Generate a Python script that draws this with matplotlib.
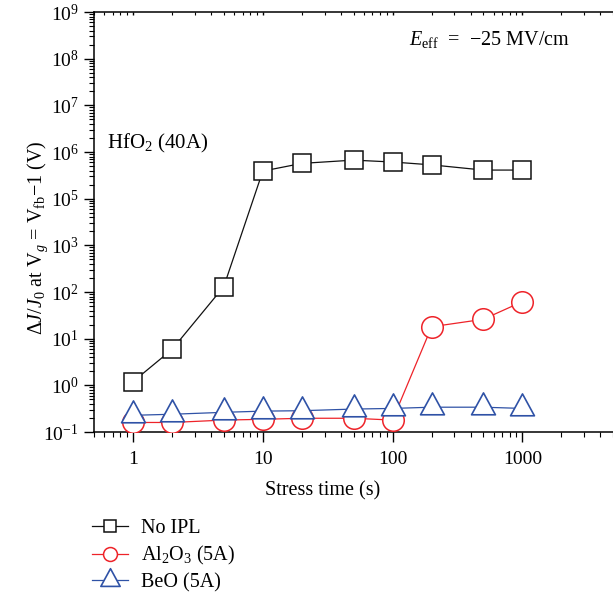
import numpy as np
import matplotlib
matplotlib.use('Agg')
import matplotlib.pyplot as plt
from matplotlib.lines import Line2D
from matplotlib.path import Path
from matplotlib.ticker import FixedLocator, LogLocator, NullFormatter

plt.rcParams['font.family'] = 'serif'
plt.rcParams['font.serif'] = ['Liberation Serif', 'DejaVu Serif']
plt.rcParams['mathtext.fontset'] = 'custom'
plt.rcParams['mathtext.rm'] = 'Liberation Serif'
plt.rcParams['mathtext.it'] = 'Liberation Serif:italic'
plt.rcParams['mathtext.bf'] = 'Liberation Serif:bold'

# stress times (s)
stress_time = [1, 2, 5, 10, 20, 50, 100, 200, 500, 1000]

# dJ/J0 as read against the axis labels
no_ipl = [1.2, 5.9, 130, 3.9e5, 5.7e5, 6.7e5, 6.1e5, 5.3e5, 4.1e5, 4.1e5]
al2o3 = [0.16, 0.16, 0.18, 0.187, 0.197, 0.197, 0.18, 18, 26, 62]
beo = [0.228, 0.24, 0.264, 0.28, 0.286, 0.31, 0.32, 0.34, 0.34, 0.32]

series_labels = ['No IPL', r'Al$_2$O$_3$ (5A)', 'BeO (5A)']

# the y axis jumps straight from 10^3 to 10^5
ytick_exp = [-1, 0, 1, 2, 3, 5, 6, 7, 8, 9]


def to_axis(vals):
    # values past the missing 10^4 decade sit one decade lower on the axis
    return [v if v < 1e4 else v / 10.0 for v in vals]


# triangle centred on its centroid
tri_w, tri_h = 24.0, 22.0
tri = Path([(0, 2 * tri_h / 3), (-tri_w / 2, -tri_h / 3), (tri_w / 2, -tri_h / 3), (0, 2 * tri_h / 3)],
           [Path.MOVETO, Path.LINETO, Path.LINETO, Path.CLOSEPOLY])

black = '#111111'
red = '#ee2329'
blue = '#2f52a6'

W, H = 613, 594
fig = plt.figure(figsize=(W / 100, H / 100), dpi=100)
ax = fig.add_axes([94 / W, 1 - 432 / H, 519 / W, 420 / H])

ax.plot(stress_time, to_axis(no_ipl), color=black, lw=0.9, marker='s', ms=13.5,
        mfc='white', mec=black, mew=1.1, zorder=3)
ax.plot(stress_time, to_axis(al2o3), color=red, lw=0.9, marker='o', ms=15.5,
        mfc='white', mec=red, mew=1.1, zorder=4)
ax.plot(stress_time, to_axis(beo), color=blue, lw=0.9, marker=tri, ms=21,
        mfc='white', mec=blue, mew=1.2, zorder=5)

ax.set_xscale('log')
ax.set_yscale('log')
ax.set_xlim(0.5, 5000)
ax.set_ylim(1e-1, 1e8)

ax.set_xticks([1, 10, 100, 1000])
ax.set_xticklabels(['1', '10', '100', '1000'])
ax.xaxis.set_minor_locator(LogLocator(base=10, subs=np.arange(2, 10)))
ax.xaxis.set_minor_formatter(NullFormatter())

ypos = 10.0 ** np.arange(-1, 9)
ax.yaxis.set_major_locator(FixedLocator(ypos))
ax.set_yticklabels([r'$10^{%d}$' % e for e in ytick_exp])
ax.yaxis.set_minor_locator(LogLocator(base=10, subs=np.arange(2, 10)))
ax.yaxis.set_minor_formatter(NullFormatter())

ax.tick_params(axis='both', which='major', direction='out', length=7, width=1.0,
               labelsize=14, colors='black', pad=4)
ax.tick_params(axis='x', which='major', pad=7)
ax.tick_params(axis='both', which='minor', direction='out', length=3.5, width=0.8)
# only tiny inward marks along the top edge
ax.tick_params(axis='x', which='both', top=True, labeltop=False)
for t in ax.xaxis.get_major_ticks() + ax.xaxis.get_minor_ticks():
    t.tick2line.set_markersize(2)
    t.tick2line.set_marker(matplotlib.lines.TICKDOWN)

for side in ['left', 'bottom', 'top']:
    ax.spines[side].set_linewidth(1.1)
ax.spines['right'].set_visible(False)

ax.set_xlabel('Stress time (s)', fontsize=14.5)
ax.xaxis.set_label_coords((323 - 94) / 519, -(481 - 432) / 420)
ax.set_ylabel(r'$\Delta J/J_0$ at V$_g$ = V$_{\rm fb}$$-$1 (V)', fontsize=14.5)
ax.yaxis.set_label_coords(-(94 - 50) / 519, (432 - 238) / 420)

ax.text(409 / W, 1 - 40 / H, r'$E_{\rm eff}$  =  $-$25 MV/cm', transform=fig.transFigure,
        fontsize=14.5, ha='left', va='center')
ax.text(107 / W, 1 - 143 / H, r'HfO$_2$ (40A)', transform=fig.transFigure,
        fontsize=15, ha='left', va='center')

handles = [
    Line2D([], [], color=black, lw=0.9, marker='s', ms=8.5, mfc='white', mec=black, mew=1.1),
    Line2D([], [], color=red, lw=0.9, marker='o', ms=10, mfc='white', mec=red, mew=1.1),
    Line2D([], [], color=blue, lw=0.9, marker=tri, ms=17, mfc='white', mec=blue, mew=1.2),
]
fig.legend(handles, series_labels, loc='upper left', bbox_to_anchor=(92 / W, 1 - 519 / H),
           frameon=False, fontsize=14.5, handlelength=1.8, handletextpad=0.65,
           labelspacing=0.3, borderpad=0, borderaxespad=0, numpoints=1)

fig.savefig('out.png', dpi=100)
